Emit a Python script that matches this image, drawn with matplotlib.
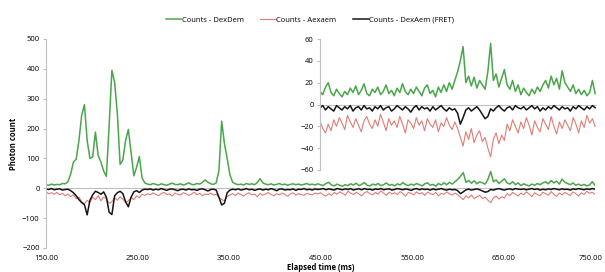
import numpy as np
import matplotlib.pyplot as plt
import matplotlib.transforms as mtransforms

plt.rcParams['font.family'] = ['Open Sans', 'DejaVu Sans']

# sampling times (ms), one point every 3 ms
time_ms = np.arange(150, 751, 3)

# Counts - DexDem (green)
dexdem = [
    12, 10, 14, 11, 13, 12, 16, 15, 22,
    48, 88, 98, 160, 245, 280, 160, 100, 105, 188,
    110, 88, 58, 40, 210, 395, 355, 250, 80, 95,
    160, 197, 120, 42, 70, 106, 35, 18,
    14, 12, 16, 13, 11, 15, 12, 10, 14, 17,
    13, 12, 15, 11, 14, 18, 13, 12, 16, 14,
    20, 28, 20, 15, 13, 18,
    60, 225, 150, 100, 45,
    20, 15, 12, 14, 11, 16, 13, 15, 12, 20,
    32, 18, 14, 12, 15, 11, 13, 16, 12, 14,
    10, 13, 15, 12, 14, 11, 13, 16, 12, 14,
    11, 15,
    # 450 - 750
    12, 9, 16, 20, 11, 8, 14, 10, 7, 12,
    9, 15, 11, 17, 9, 13, 19, 10, 8, 14,
    11, 16, 9, 12, 18, 10, 13, 8, 15, 11,
    19, 12, 9, 14, 10, 16, 12, 8, 15, 18,
    10, 13, 7, 16, 11, 18, 12, 20, 14, 22,
    30, 40, 53, 20, 26, 17, 25, 15, 22, 18,
    14, 30, 56, 22, 28, 16, 24, 32, 18, 14,
    22, 12, 18, 9, 15, 11, 8, 14, 10, 16,
    12, 18, 22, 15, 26, 18, 24, 14, 31, 20,
    16, 12, 18, 10, 14, 9, 13, 8, 11, 22,
    10,
]

# Counts - Aexaem (red)
aexaem = [
    -12, -18, -15, -20, -14, -22, -17, -25, -19,
    -28, -22, -35, -30, -45, -52, -40, -48, -30, -38,
    -25, -42, -30, -35, -50, -45, -32, -40, -28, -36,
    -48, -42, -30, -38, -25, -32, -20, -24,
    -18, -22, -15, -20, -25, -17, -14, -21, -19, -26,
    -16, -20, -23, -15, -18, -24, -20, -13, -22, -17,
    -25, -19, -21, -16, -23, -20,
    -30, -38, -42, -28, -22,
    -18, -24, -16, -21, -26, -19, -15, -22, -20, -28,
    -17, -23, -19, -14, -21, -25, -18, -22, -16, -20,
    -27, -19, -15, -23, -18, -21, -24, -17, -20, -22,
    -16, -19,
    # 450 - 750
    -15, -22, -26, -18, -24, -14, -20, -12, -17, -23,
    -10, -16, -21, -13, -19, -25, -15, -11, -18, -22,
    -14, -20, -9, -16, -24, -13, -19, -15, -21, -11,
    -18, -26, -14, -17, -22, -12, -19, -15, -24, -13,
    -18, -21, -14, -25, -17, -20, -12, -19, -23, -16,
    -22, -30, -38, -25, -32, -22, -35, -28, -24, -34,
    -30, -40, -48, -32, -26, -36, -28, -33, -18, -24,
    -14, -20, -26, -16, -22, -12, -19, -28, -15, -21,
    -25, -13, -18, -23, -11, -20, -27, -16, -22, -14,
    -19, -24, -12, -18, -26, -15, -21, -10, -17, -13,
    -20,
]

# Counts - DexAem (FRET) (black)
dexaem = [
    -2, -4, -1, -5, -3, -2, -6, -4, -3,
    -8, -15, -25, -38, -48, -55, -89, -40, -22, -10,
    -14, -20, -12, -30, -80, -88, -25, -15, -10, -18,
    -45, -62, -30, -12, -8, -14, -6, -3,
    -4, -2, -6, -3, -5, -1, -4, -7, -3, -2,
    -5, -8, -4, -3, -6, -2, -5, -4, -7, -3,
    -2, -5, -9, -4, -3, -6,
    -30, -56, -50, -15, -6,
    -3, -5, -2, -6, -4, -1, -5, -3, -7, -4,
    -2, -6, -3, -5, -1, -4, -8, -3, -2, -6,
    -4, -5, -2, -7, -3, -4, -1, -5, -3, -6,
    -2, -4,
    # 450 - 750
    -3, -1, -5, -2, -4, -6, -1, -3, -5, -2,
    -4, -1, -6, -3, -2, -5, -1, -4, -3, -6,
    -2, -4, -1, -5, -3, -2, -6, -4, -1, -3,
    -5, -2, -4, -7, -3, -1, -5, -2, -4, -3,
    -6, -2, -5, -3, -1, -4, -6, -3, -5, -4,
    -8, -18, -12, -5, -3, -6, -4, -2, -5, -9,
    -13, -11, -4, -6, -3, -1, -4, -6, -3, -2,
    -5, -1, -3, -4, -2, -5, -3, -1, -4, -2,
    -6, -3, -5, -2, -4, -1, -3, -5, -2, -4,
    -3, -6, -2, -4, -1, -3, -5, -2, -4, -1,
    -3,
]

labels = ["Counts - DexDem", "Counts - Aexaem", "Counts - DexAem (FRET)"]
colors = ["#4aa64a", "#e07c74", "#151515"]
widths = [1.1, 0.8, 1.1]
series = [dexdem, aexaem, dexaem]

xticks = [150, 250, 350, 450, 550, 650, 750]
grey = "#bfbfbf"
fs = 5.5

fig = plt.figure(figsize=(6.05, 2.72), dpi=100)

# main chart
ax = fig.add_axes([46/605, 1-248/272, 549/605, 209/272])
handles = []
for y, c, w, l in zip(series, colors, widths, labels):
    h, = ax.plot(time_ms, y, color=c, lw=w, label=l)
    handles.append(h)
ax.axhline(0, color=grey, lw=0.8, zorder=0)
ax.set_xlim(150, 750)
ax.set_ylim(-200, 500)
ax.set_xticks(xticks)
ax.set_xticklabels(["%.2f" % v for v in xticks])
ax.set_yticks(range(-200, 501, 100))
for s in ["top", "right", "bottom"]:
    ax.spines[s].set_visible(False)
ax.spines["left"].set_color(grey)
ax.tick_params(axis="x", length=0, labelsize=fs, pad=5)
ax.tick_params(axis="y", length=2.5, color=grey, labelsize=fs, pad=2)
ax.set_ylabel("Photon count", fontsize=fs, fontweight="bold", labelpad=3)
ax.set_xlabel("Elapsed time (ms)", fontsize=fs, fontweight="bold", labelpad=1)

# nudge the last x label a few pixels left so it stays inside the figure
last = ax.get_xticklabels()[-1]
last.set_transform(last.get_transform() +
                   mtransforms.ScaledTranslation(-4/100, 0, fig.dpi_scale_trans))

# inset zoom of the 450-750 ms part
ins = fig.add_axes([320/605, 1-170/272, 277/605, 131/272])
ins.patch.set_alpha(0)
for y, c, w in zip(series, colors, widths):
    ins.plot(time_ms, y, color=c, lw=w)
ins.axhline(0, color=grey, lw=0.8, zorder=0)
ins.set_xlim(450, 752)
ins.set_ylim(-60, 60)
ins.set_xticks([])
ins.set_yticks(range(-60, 61, 20))
for s in ["top", "right", "bottom"]:
    ins.spines[s].set_visible(False)
ins.spines["left"].set_color(grey)
ins.tick_params(axis="y", length=2.5, color=grey, labelsize=fs, pad=2)

fig.legend(handles, labels, loc="center", bbox_to_anchor=(310/605, 1-20/272),
           ncol=3, frameon=False, fontsize=fs, handlelength=2.0,
           handletextpad=0.1, columnspacing=2.2)

fig.savefig("out.png", dpi=100)
